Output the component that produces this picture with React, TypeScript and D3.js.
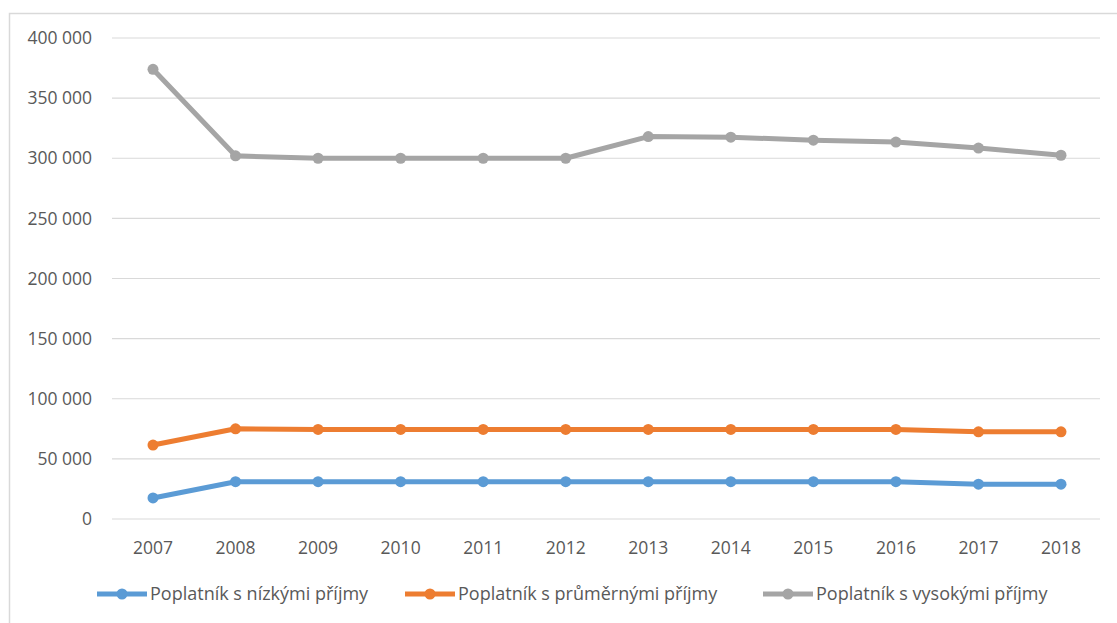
import React from "react";
import * as d3 from "d3";

const years = ["2007","2008","2009","2010","2011","2012","2013","2014","2015","2016","2017","2018"];
const lowIncome = [17500, 31000, 31000, 31000, 31000, 31000, 31000, 31000, 31000, 31000, 29000, 29000];
const avgIncome = [61500, 75000, 74500, 74500, 74500, 74500, 74500, 74500, 74500, 74500, 72500, 72500];
const highIncome = [374000, 302000, 300000, 300000, 300000, 300000, 318000, 317500, 315000, 313500, 308500, 302500];
const yTicks = [0, 50000, 100000, 150000, 200000, 250000, 300000, 350000, 400000];
const seriesNames = ["Poplatník s nízkými příjmy", "Poplatník s průměrnými příjmy", "Poplatník s vysokými příjmy"];
const seriesColors = ["#5B9BD5", "#ED7D31", "#A5A5A5"];

const W = 1117, H = 623;
const FONT = "'Open Sans', sans-serif";

export default function App() {
  const x = d3.scalePoint<string>().domain(years).range([153, 1061]);
  const y = d3.scaleLinear().domain([0, 400000]).range([519, 38]);
  const line = d3.line<number>().x((_, i) => x(years[i])!).y(d => y(d));
  const fmt = (v: number) => d3.format(",")(v).replace(/,/g, " ");
  const all = [lowIncome, avgIncome, highIncome];
  const legendX = [97, 405, 763];

  return (
    <svg width={W} height={H} style={{ position: "absolute", left: 0, top: 0, background: "#fff" }}>
      <rect x={9.5} y={13.5} width={1130} height={640} fill="#fff" stroke="#D9D9D9" strokeWidth={1.5} />
      {yTicks.map(t => (
        <g key={t}>
          <line x1={112} x2={1100} y1={y(t)} y2={y(t)} stroke="#D9D9D9" strokeWidth={1.2} />
          <text x={92} y={y(t)} dy="0.35em" textAnchor="end" fontFamily={FONT} fontSize={17.5} fill="#595959">{fmt(t)}</text>
        </g>
      ))}
      {years.map(yr => (
        <text key={yr} x={x(yr)} y={548} dy="0.35em" textAnchor="middle" fontFamily={FONT} fontSize={17.5} fill="#595959">{yr}</text>
      ))}
      {all.map((s, k) => (
        <g key={k}>
          <path d={line(s) || ""} fill="none" stroke={seriesColors[k]} strokeWidth={5} strokeLinejoin="round" />
          {s.map((v, i) => (
            <circle key={i} cx={x(years[i])} cy={y(v)} r={5.5} fill={seriesColors[k]} />
          ))}
        </g>
      ))}
      {seriesNames.map((n, k) => (
        <g key={n} transform={`translate(${legendX[k]},594)`}>
          <line x1={0} x2={50} y1={0} y2={0} stroke={seriesColors[k]} strokeWidth={5} />
          <circle cx={25} cy={0} r={5.5} fill={seriesColors[k]} />
          <text x={53} y={0} dy="0.35em" fontFamily={FONT} fontSize={18} fill="#595959">{n}</text>
        </g>
      ))}
    </svg>
  );
}
